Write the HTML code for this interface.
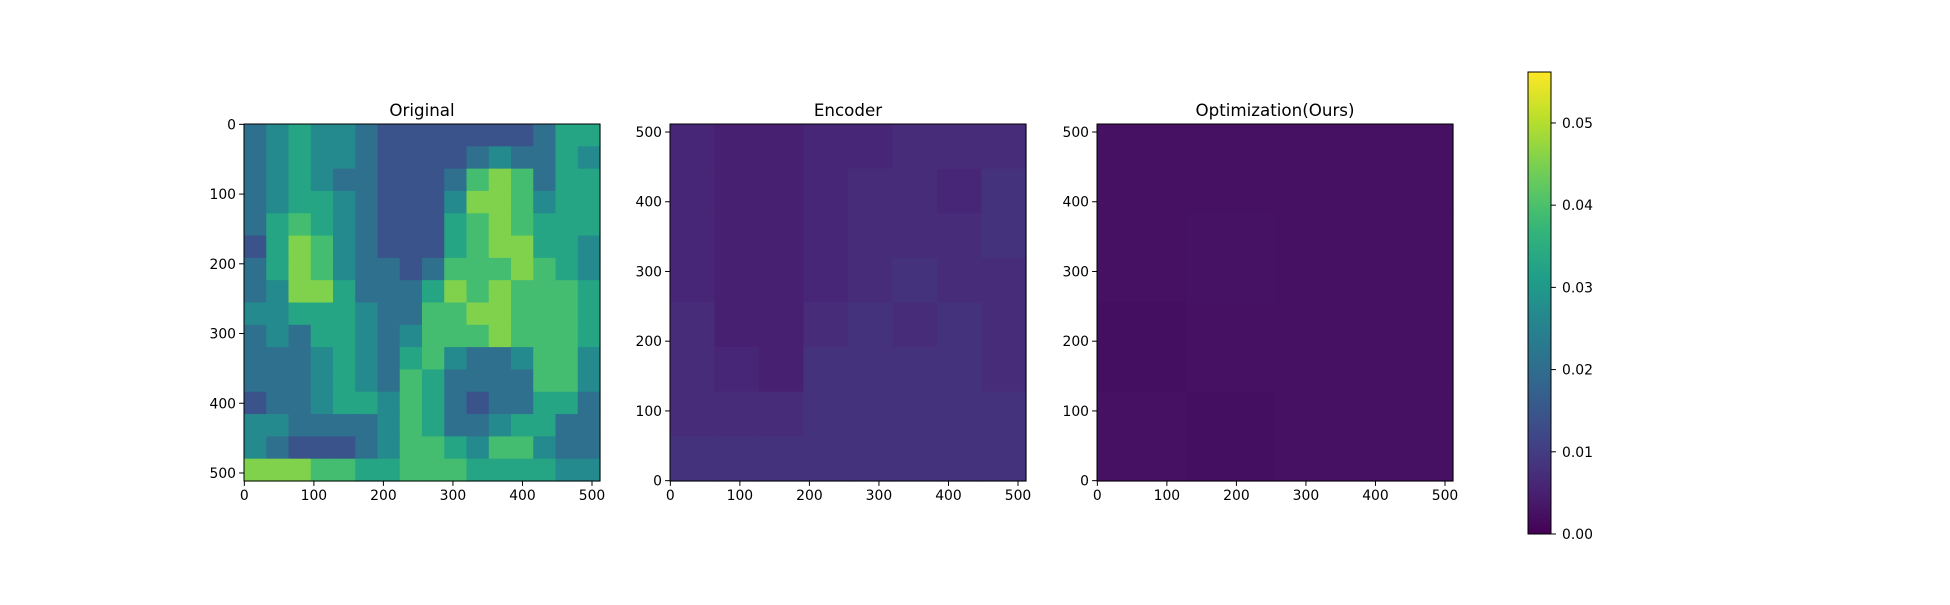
<!DOCTYPE html>
<html><head><meta charset="utf-8"><style>
body{margin:0;background:#fff;}
svg text{font-family:"DejaVu Sans","Liberation Sans",sans-serif;fill:#000;}
</style></head><body>
<svg id="fig" width="1950" height="600" viewBox="0 0 1950 600" xmlns="http://www.w3.org/2000/svg">
<rect width="1950" height="600" fill="#fff"/>
</svg>
<script>
// data
const ticks = [0,100,200,300,400,500];
const cbTicks = [0,0.01,0.02,0.03,0.04,0.05];
const cbTickLabels = ['0.00','0.01','0.02','0.03','0.04','0.05'];
const vmin = 0, vmax = 0.0562;
const panelTitles = ['Original','Encoder','Optimization(Ours)'];
// original heatmap (levels 0..9), 16x16 rows top->bottom
const originalLevels = [
[3,4,5,4,4,3,2,2,2,2,2,2,2,3,5,5],
[3,4,5,4,4,3,2,2,2,2,3,4,3,3,5,4],
[3,4,5,4,3,3,2,2,2,3,6,7,6,3,5,5],
[3,4,5,5,4,3,2,2,2,4,7,7,6,4,5,5],
[3,5,6,5,4,3,2,2,2,5,6,7,6,5,5,5],
[2,5,7,6,4,3,2,2,2,5,6,7,7,5,5,4],
[3,5,7,6,4,3,3,2,3,6,6,6,7,6,5,4],
[3,4,7,7,5,3,3,3,5,7,6,7,6,6,6,5],
[4,4,5,5,5,4,3,3,6,6,7,7,6,6,6,5],
[3,4,3,5,5,4,3,4,6,6,6,7,6,6,6,5],
[3,3,3,4,5,4,3,5,6,4,3,3,4,6,6,4],
[3,3,3,4,5,4,3,6,5,3,3,3,3,6,6,4],
[2,3,3,4,5,5,4,6,5,3,2,3,3,5,5,3],
[4,4,3,3,3,3,4,6,5,3,3,4,5,5,3,3],
[4,3,2,2,2,3,4,6,6,5,4,6,6,4,3,3],
[7,7,7,6,6,5,5,6,6,6,5,5,5,5,4,4]];
// encoder error (x1000), 8x8 rows top->bottom
const encoderVals = [
[6,5,5,6,6,7,7,7],
[6,5,5,6,7,7,6,8],
[6,5,5,6,7,7,7,8],
[6,5,5,6,7,8,7,7],
[7,5,5,7,8,7,8,7],
[7,6,5,8,8,8,8,7],
[7,7,7,8,8,8,8,8],
[8,8,8,8,8,8,8,8]];
// ours error (x1000), 4x4
const oursVals = [
[2.5,2.5,2.5,2.5],
[2.5,2.8,2.5,2.5],
[2.3,2.5,2.5,2.5],
[2.5,2.3,2.5,2.5]];

const stops=[[68,1,84],[72,40,120],[62,74,137],[49,104,142],[38,130,142],[31,158,137],[53,183,121],[109,205,89],[180,222,44],[253,231,37]];
function viridis(t){t=Math.max(0,Math.min(1,t));const f=t*(stops.length-1),i=Math.min(Math.floor(f),stops.length-2),r=f-i;
const c=stops[i].map((v,k)=>Math.round(v+(stops[i+1][k]-v)*r));return `rgb(${c[0]},${c[1]},${c[2]})`;}
const NS="http://www.w3.org/2000/svg", svg=document.getElementById('fig');
function mk(tag,attrs,parent){const e=document.createElementNS(NS,tag);for(const k in attrs)e.setAttribute(k,attrs[k]);(parent||svg).appendChild(e);return e;}
const panels=[{x:244,flip:false,name:'original'},{x:670,flip:true,name:'encoder'},{x:1097,flip:true,name:'ours'}];
const PT=124,PW=356,PH=357;
const grids=[originalLevels.map(r=>r.map(v=>0.002+v*0.0062)),encoderVals.map(r=>r.map(v=>v/1000)),oursVals.map(r=>r.map(v=>v/1000))];
panels.forEach((p,pi)=>{
  const g=mk('g',{});
  
  
  const grid=grids[pi],n=grid.length,m=grid[0].length;
  const cw=PW/m,ch=PH/n;
  grid.forEach((row,ri)=>row.forEach((v,ci)=>{
    const c=mk('rect',{x:p.x+ci*cw,y:PT+ri*ch,width:cw+0.6,height:ch+0.6,fill:viridis((v-vmin)/(vmax-vmin))},g);
    
    
  }));
  const fr=mk('rect',{x:p.x,y:PT,width:PW,height:PH,fill:'none',stroke:'#000','stroke-width':1},g);
  
  
  const t=mk('text',{x:p.x+PW/2,y:PT-8,'text-anchor':'middle','font-size':16.7},g);t.textContent=panelTitles[pi];
  
  
  ticks.forEach(v=>{
    const x=p.x+(v+0.5)/512*PW;
    mk('line',{x1:x,x2:x,y1:PT+PH,y2:PT+PH+4.9,stroke:'#000','stroke-width':1},g);
    const tx=mk('text',{x:x,y:PT+PH+19,'text-anchor':'middle','font-size':13.9},g);tx.textContent=v;
    
    
    const y=p.flip?PT+PH-(v+0.5)/512*PH:PT+(v+0.5)/512*PH;
    mk('line',{x1:p.x,x2:p.x-4.9,y1:y,y2:y,stroke:'#000','stroke-width':1},g);
    const ty=mk('text',{x:p.x-8,y:y+5,'text-anchor':'end','font-size':13.9},g);ty.textContent=v;
    
    
  });
});
// colorbar
const CX=1528,CW=23,CT=72,CB=534;
const cg=mk('g',{});


const defs=mk('defs',{}),lg=mk('linearGradient',{id:'vg',x1:0,y1:1,x2:0,y2:0},defs);
for(let i=0;i<=20;i++)mk('stop',{offset:i/20,'stop-color':viridis(i/20)},lg);
mk('rect',{x:CX,y:CT,width:CW,height:CB-CT,fill:'url(#vg)',stroke:'#000','stroke-width':1},cg);
cbTicks.forEach((v,i)=>{
  const y=CB-(v-vmin)/(vmax-vmin)*(CB-CT);
  mk('line',{x1:CX+CW,x2:CX+CW+4.9,y1:y,y2:y,stroke:'#000','stroke-width':1},cg);
  const t=mk('text',{x:CX+CW+11,y:y+5,'font-size':13.9},cg);t.textContent=cbTickLabels[i];
  
  
});
</script>
</body></html>
